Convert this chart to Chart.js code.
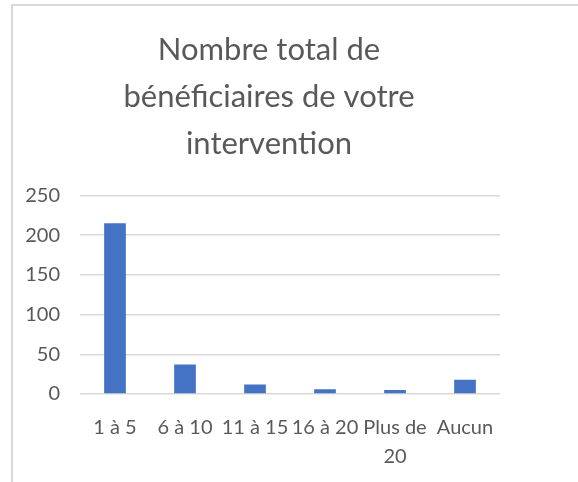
<!DOCTYPE html>
<html>
<head>
<meta charset="utf-8">
<script src="https://cdn.jsdelivr.net/npm/chart.js@4"></script>
<style>
  html, body { margin: 0; padding: 0; background: #fff; overflow: hidden; }
  #cadre {
    position: absolute; left: 11px; top: 4px;
    width: 640px; height: 560px;
    border: 2px solid #d9d9d9;
  }
  #zone { position: absolute; left: 11px; top: 0; width: 516px; height: 482px; }
</style>
</head>
<body>
<div id="cadre"></div>
<div id="zone"><canvas id="beneficiairesChart"></canvas></div>
<script>
const titre = ["Nombre total de", "bénéficiaires de votre", "intervention"];
const categories = ["1 à 5", "6 à 10", "11 à 15", "16 à 20", ["Plus de", "20"], "Aucun"];
const valeurs = [215, 37, 12, 6, 5, 18];
const ticksY = [0, 50, 100, 150, 200, 250];

const gris = "#595959";
const police = "Lato, 'Open Sans', sans-serif";

const ctx = document.getElementById("beneficiairesChart").getContext("2d");
const chart = new Chart(ctx, {
  type: "bar",
  data: {
    labels: categories,
    datasets: [
      {
        label: "Bénéficiaires",
        data: valeurs,
        backgroundColor: "#4472c4",
        borderWidth: 0,
        categoryPercentage: 1,
        barPercentage: 0.31,
      },
    ],
  },
  options: {
    responsive: true,
    maintainAspectRatio: false,
    animation: false,
    layout: { padding: 0 },
    plugins: {
      legend: { display: false },
      tooltip: { enabled: false },
      title: {
        display: true,
        text: titre,
        color: gris,
        font: { family: police, size: 31, weight: "normal", lineHeight: 1.52 },
        padding: { top: 26, bottom: 28 },
      },
    },
    scales: {
      x: {
        grid: { display: false, drawTicks: false },
        border: { display: false },
        ticks: {
          color: gris,
          font: { family: police, size: 20, lineHeight: 1.45 },
          padding: 19,
          maxRotation: 0,
          autoSkip: false,
        },
        afterFit: (s) => { s.height = 88; },
      },
      y: {
        min: 0,
        max: ticksY[ticksY.length - 1],
        afterBuildTicks: (s) => { s.ticks = ticksY.map(v => ({ value: v })); },
        grid: { color: "#d9d9d9", lineWidth: 1.5, drawTicks: false },
        border: { display: false },
        ticks: {
          color: gris,
          font: { family: police, size: 20 },
          padding: 20,
        },
        afterFit: (s) => { s.width = 69; },
      },
      // axe vide à droite : simple marge, le titre reste centré sur le cadre
      marge: {
        type: "linear",
        position: "right",
        grid: { display: false, drawTicks: false },
        border: { display: false },
        ticks: { display: false },
        afterFit: (s) => { s.width = 27; },
      },
    },
  },
});
</script>
</body>
</html>
